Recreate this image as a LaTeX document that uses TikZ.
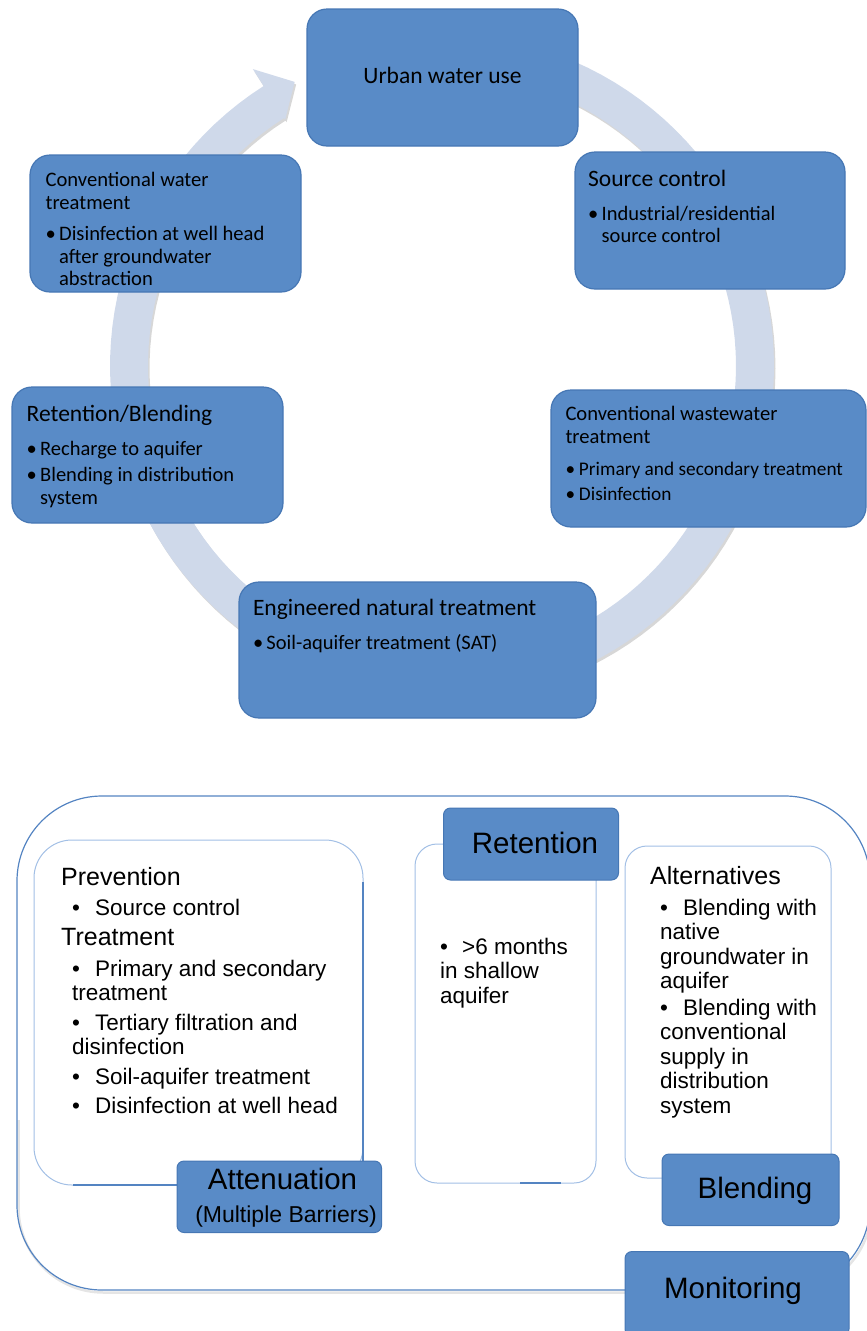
\documentclass[tikz,border=0pt]{standalone}
\usepackage{fontspec}
\setmainfont{Carlito}
\newfontfamily\arialfont{Liberation Sans}
\definecolor{stagefill}{RGB}{89,139,199}
\definecolor{stageedge}{RGB}{70,119,180}
\definecolor{ringfill}{RGB}{207,217,234}
\definecolor{frameline}{RGB}{84,132,194}
\definecolor{panelline}{RGB}{162,191,229}
\newcommand{\lines}[1]{\begin{tabular}[t]{@{}l@{}}#1\end{tabular}}
\newcommand{\tb}{\makebox[13.5pt][l]{\textbullet}}
\newcommand{\bb}[1][23pt]{\makebox[#1][l]{\textbullet}}
\newcommand{\hdA}{\fontsize{23.5}{25}\selectfont}
\newcommand{\hdB}{\fontsize{20.6}{22.6}\selectfont}
\newcommand{\btA}{\fontsize{20.5}{22.7}\selectfont}
\newcommand{\btB}{\fontsize{19.3}{21.5}\selectfont}
\newcommand{\ringpath}{plot[domain=-80:237.5, samples=120, variable=\t] ({442+332*cos(\t)}, {366+332*sin(\t)}) -- (252.9,69.1) -- (294.7,81.9) -- ({442+292*cos(237.5)}, {366+292*sin(237.5)}) -- plot[domain=237.5:-80, samples=120, variable=\t] ({442+294*cos(\t)}, {366+294*sin(\t)}) -- cycle}
\tikzstyle{stage}=[rectangle, draw=stageedge, fill=stagefill, line width=1.2pt, rounded corners=20pt, inner sep=0pt]
\tikzstyle{barrier}=[rectangle, draw=stageedge, fill=stagefill, line width=1pt, rounded corners=7pt, inner sep=0pt]
\tikzstyle{txt}=[anchor=base west, inner sep=0pt]
\tikzstyle{ctxt}=[anchor=base, inner sep=0pt, font=\arialfont\fontsize{29.5}{31}\selectfont]
\tikzstyle{panel}=[draw=panelline, line width=1pt]
\tikzstyle{btxt}=[anchor=base west, inner sep=0pt, font=\arialfont\fontsize{22.5}{24.5}\selectfont]
\tikzstyle{bhead}=[anchor=base west, inner sep=0pt, font=\arialfont\fontsize{25}{27}\selectfont]

\begin{document}
\begin{tikzpicture}[x=1pt, y=-1pt]
    \useasboundingbox (0,0) rectangle (867,1331);
    % cycle arrow behind the stages
    \fill[black!35, opacity=.45, shift={(1.5,2.5)}] \ringpath;
    \fill[ringfill] \ringpath;

    \node[stage, minimum width=271pt, minimum height=137pt] (use) at (442.5,77.5) {};
    \node[stage, minimum width=270pt, minimum height=137pt] (src) at (710,220.5) {};
    \node[stage, minimum width=315pt, minimum height=137pt] (wwt) at (708.5,458.5) {};
    \node[stage, minimum width=357pt, minimum height=136pt] (ent) at (417.5,650) {};
    \node[stage, minimum width=271pt, minimum height=136pt] (rbl) at (147.5,455) {};
    \node[stage, minimum width=271pt, minimum height=137pt] (cwt) at (165.5,223.5) {};

    \node[anchor=base, inner sep=0pt, font=\hdA] (usetxt) at (442.5,83.3) {Urban water use};

    \node[txt, font=\hdA] (srchd) at (588,186.7) {Source control};
    \node[txt, font=\btA] (srcbl) at (588,220) {\tb\lines{Industrial/residential\\source control}};

    \node[txt, font=\hdB] (wwthd) at (565.3,420.7) {\lines{Conventional wastewater\\treatment}};
    \node[txt, font=\btB] (wwtbl) at (565.3,475) {\tb Primary and secondary treatment};
    \node[txt, font=\btB] (wwtbm) at (565.3,500) {\tb Disinfection};

    \node[txt, font=\hdA] (enthd) at (252.8,615) {Engineered natural treatment};
    \node[txt, font=\btA] (entbl) at (252.8,649.3) {\tb Soil-aquifer treatment (SAT)};

    \node[txt, font=\hdA] (rblhd) at (26.5,421.7) {Retention/Blending};
    \node[txt, font=\btA] (rblbl) at (26.5,455.7) {\tb Recharge to aquifer};
    \node[txt, font=\btA] (rblbm) at (26.5,481.7) {\tb\lines{Blending in distribution\\system}};

    \node[txt, font=\hdB] (cwthd) at (45.4,186.7) {\lines{Conventional water\\treatment}};
    \node[txt, font=\hdB] (cwtbl) at (45.4,240.7) {\tb\lines{Disinfection at well head\\after groundwater\\abstraction}};

    % multiple barriers frame
    \begin{scope}
        \clip (0,1120) rectangle (867,1331);
        \draw[black!10, line width=2.5pt, rounded corners=85pt] (18.5,798.5) rectangle (871.5,1292.5);
    \end{scope}
    \draw[frameline, line width=1.2pt, rounded corners=85pt] (17,796) rectangle (870,1290);

    \draw[panel, rounded corners=38pt] (34,840) rectangle (363,1185);
    \draw[panel, rounded corners=22pt] (415,844) rectangle (596,1183);
    \draw[panel, rounded corners=22pt] (625,846) rectangle (831,1178);
    \draw[frameline, line width=1.4pt] (363,882) -- (363,1161) (73,1185) -- (178,1185);
    \draw[frameline, line width=2.5pt] (520,1183) -- (561,1183);

    \node[barrier, minimum width=175pt, minimum height=72pt] (ret) at (531,844) {};
    \node[barrier, minimum width=204.5pt, minimum height=71.5pt] (att) at (279.25,1196.75) {};
    \node[barrier, minimum width=177pt, minimum height=71.5pt] (bln) at (750.5,1189.75) {};
    \node[barrier, minimum width=224pt, minimum height=84.5pt] (mon) at (737,1293.75) {};

    \node[ctxt] (rettxt) at (535,853) {Retention};
    \node[ctxt] (atttxt) at (282.5,1189.3) {Attenuation};
    \node[ctxt, font=\arialfont\fontsize{23}{25}\selectfont] (attsub) at (286,1222) {(Multiple Barriers)};
    \node[ctxt] (blntxt) at (755,1198) {Blending};
    \node[ctxt] (montxt) at (733,1298) {Monitoring};

    \node[bhead] (prev) at (61,885.4) {Prevention};
    \node[btxt] (prva) at (72,915.3) {\bb Source control};
    \node[bhead] (treat) at (61,945.8) {Treatment};
    \node[btxt] (trta) at (72,976) {\lines{\bb Primary and secondary\\treatment}};
    \node[btxt] (trtb) at (72,1030) {\lines{\bb Tertiary filtration and\\disinfection}};
    \node[btxt] (trtc) at (72,1084) {\bb Soil-aquifer treatment};
    \node[btxt] (trtd) at (72,1113.8) {\bb Disinfection at well head};

    \node[btxt] (reta) at (440,954) {\lines{\bb[22pt]>6 months\\in shallow\\aquifer}};

    \node[bhead] (alt) at (650,884.7) {Alternatives};
    \node[btxt] (alta) at (660,915) {\lines{\bb Blending with\\native\\groundwater in\\aquifer}};
    \node[btxt] (altb) at (660,1015) {\lines{\bb Blending with\\conventional\\supply in\\distribution\\system}};
\end{tikzpicture}
\end{document}
